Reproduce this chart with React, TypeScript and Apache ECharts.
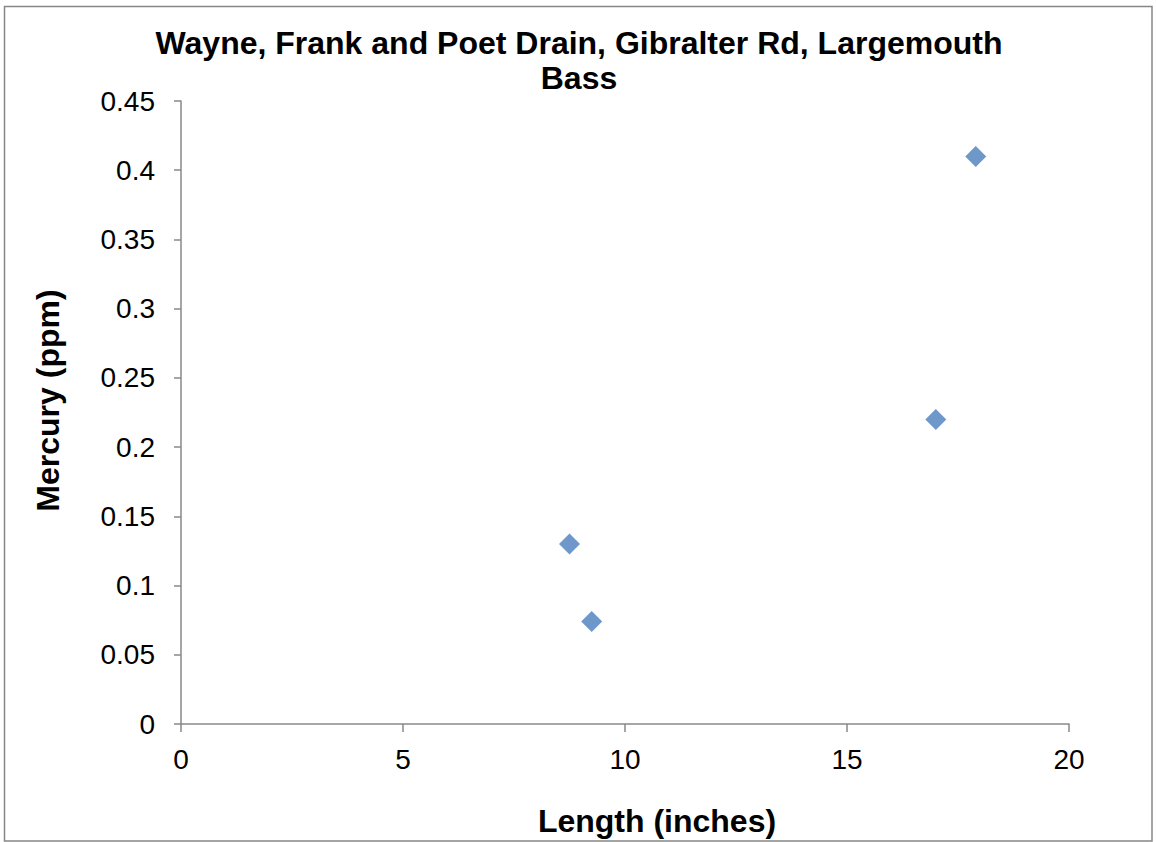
import React, { useEffect, useRef } from "react";
import * as echarts from "echarts";

const titleText = "Wayne, Frank and Poet Drain, Gibralter Rd, Largemouth\nBass";
const xAxisName = "Length (inches)";
const yAxisName = "Mercury (ppm)";
const lengths = [8.75, 9.25, 17.0, 17.9];
const mercury = [0.13, 0.074, 0.22, 0.41];

const FONT = "'Liberation Sans', Arial, sans-serif";
const AXIS_COLOR = "#898989";

export default function App() {
  const ref = useRef<HTMLDivElement>(null);
  useEffect(() => {
    if (!ref.current) return;
    const chart = echarts.init(ref.current, null, { renderer: "svg" });
    const points = lengths.map((x, i) => [x, mercury[i]]);
    chart.setOption({
      animation: false,
      backgroundColor: "#ffffff",
      textStyle: { fontFamily: FONT },
      title: {
        text: titleText,
        left: 579,
        top: 25,
        padding: 0,
        textAlign: "center",
        textStyle: {
          fontFamily: FONT,
          fontSize: 32,
          fontWeight: "bold",
          color: "#000000",
          lineHeight: 35,
        },
      },
      graphic: [
        {
          type: "rect",
          shape: { x: 4.5, y: 6.5, width: 1147.5, height: 834.5 },
          style: { fill: "none", stroke: "#868686", lineWidth: 1.5 },
          silent: true,
        },
      ],
      grid: { left: 181, right: 87, top: 101, bottom: 117, containLabel: false },
      xAxis: {
        type: "value",
        min: 0,
        max: 20,
        interval: 5,
        name: xAxisName,
        nameLocation: "middle",
        nameGap: 81,
        nameTextStyle: {
          fontFamily: FONT,
          fontSize: 32,
          fontWeight: "bold",
          color: "#000000",
          padding: [0, 0, 0, 64],
        },
        axisLine: { show: true, onZero: false, lineStyle: { color: AXIS_COLOR, width: 1.5 } },
        axisTick: { show: true, inside: false, length: 8, lineStyle: { color: AXIS_COLOR, width: 1.5 } },
        axisLabel: { fontFamily: FONT, fontSize: 28, color: "#000000", margin: 21 },
        splitLine: { show: false },
      },
      yAxis: {
        type: "value",
        min: 0,
        max: 0.45,
        interval: 0.05,
        name: yAxisName,
        nameLocation: "middle",
        nameGap: 117,
        nameRotate: 90,
        nameTextStyle: {
          fontFamily: FONT,
          fontSize: 32,
          fontWeight: "bold",
          color: "#000000",
          padding: [0, 0, 0, 24],
        },
        axisLine: { show: true, onZero: false, lineStyle: { color: AXIS_COLOR, width: 1.5 } },
        axisTick: { show: true, inside: false, length: 7, lineStyle: { color: AXIS_COLOR, width: 1.5 } },
        axisLabel: {
          fontFamily: FONT,
          fontSize: 28,
          color: "#000000",
          margin: 26,
          formatter: (v: number) => String(parseFloat(v.toFixed(2))),
        },
        splitLine: { show: false },
      },
      series: [
        {
          type: "scatter",
          data: points,
          symbol: "diamond",
          symbolSize: 21,
          itemStyle: { color: "#4a7dbd" },
        },
      ],
    });
    return () => chart.dispose();
  }, []);
  return (
    <div
      ref={ref}
      style={{ position: "absolute", left: 0, top: 0, width: 1156, height: 842 }}
    />
  );
}
